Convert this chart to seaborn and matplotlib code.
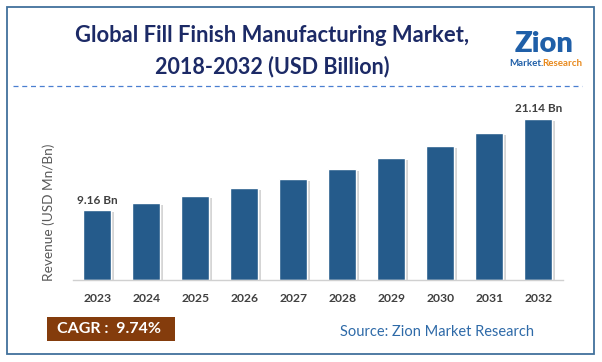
import pandas as pd
import matplotlib.pyplot as plt
import matplotlib.patheffects as pe
from matplotlib.patches import Rectangle
from matplotlib.lines import Line2D
import seaborn as sns

# chart data (USD Billion)
years = ['2023', '2024', '2025', '2026', '2027', '2028', '2029', '2030', '2031', '2032']
revenue = [9.16, 10.06, 11.03, 12.08, 13.25, 14.55, 15.97, 17.53, 19.25, 21.14]
bar_labels = {0: '9.16 Bn', 9: '21.14 Bn'}
cagr_text = 'CAGR :  9.74%'

df = pd.DataFrame({'Year': years, 'Revenue': revenue})

sns.set_theme(style="white")
plt.rcParams['font.family'] = ['Lato', 'DejaVu Sans']

W, H = 602, 362
fig = plt.figure(figsize=(W / 100, H / 100), dpi=100)

def px(x, y):
    return x / W, 1 - y / H

# outer frame + dashed separator
fig.patches.append(Rectangle(px(6.5, 354), (594 - 6.5) / W, (354 - 6.5) / H,
                             transform=fig.transFigure, fill=False,
                             edgecolor='#41719c', linewidth=1.3))
fig.lines.append(Line2D([13 / W, 582 / W], [1 - 86 / H, 1 - 86 / H],
                        transform=fig.transFigure, color='#4a7fd0',
                        linewidth=0.9, linestyle=(0, (4, 3))))

# bars
ax = fig.add_axes([72.7 / W, 1 - 280 / H, 490 / W, 183 / H])
sns.barplot(data=df, x='Year', y='Revenue', color='#255b8b', width=0.57,
            saturation=1, ax=ax)
for p in ax.patches:
    p.set_path_effects([pe.SimplePatchShadow(offset=(2, -1.5), shadow_rgbFace='#888888', alpha=0.35),
                        pe.Normal()])

for i, txt in bar_labels.items():
    ax.text(i, revenue[i] + 0.6, txt, ha='center', va='bottom',
            fontsize=8.5, fontweight='bold', color='#404040')

ax.set_xlim(-0.5, 9.5)
ax.set_ylim(0, 24)
ax.set_yticks([])
ax.set_xlabel('')
ax.set_ylabel('Revenue (USD Mn/Bn)', fontsize=9.8, color='#595959')
ax.yaxis.set_label_coords(-0.036, 0.37)
ax.tick_params(axis='x', length=0, pad=9, labelsize=8.7, labelcolor='#404040')
for lab in ax.get_xticklabels():
    lab.set_fontweight('bold')
for s in ['top', 'right', 'left']:
    ax.spines[s].set_visible(False)
ax.spines['bottom'].set_color('#d0d0d0')
ax.spines['bottom'].set_linewidth(1)
ax.set_facecolor('none')

# title
fig.text(*px(272, 36), 'Global Fill Finish Manufacturing Market,', ha='center', va='center',
         fontsize=15.8, fontweight='bold', color='#1c2a66')
fig.text(*px(272, 67), '2018-2032 (USD Billion)', ha='center', va='center',
         fontsize=15.5, fontweight='bold', color='#1c2a66')

# logo
fig.text(*px(544, 44), 'Zion', ha='center', va='center', fontsize=21,
         fontweight='heavy', color='#1f5fa8')
fig.text(*px(526, 63), 'Market.', ha='center', va='center', fontsize=7,
         fontweight='bold', color='#1f5fa8')
fig.text(*px(562, 63), 'Research', ha='center', va='center', fontsize=7,
         fontweight='bold', color='#e8891c')

# CAGR box and source
fig.patches.append(Rectangle(px(46.7, 341), (175 - 46.7) / W, (341 - 316.7) / H,
                             transform=fig.transFigure, facecolor='#843c0c', edgecolor='none'))
fig.text(*px(109, 329), cagr_text, ha='center', va='center', fontsize=11.5,
         fontweight='bold', color='white')
fig.text(*px(437, 332), 'Source: Zion Market Research', ha='center', va='center',
         fontsize=10.5, color='#2e6aa8')

fig.savefig('out.png', dpi=100)
